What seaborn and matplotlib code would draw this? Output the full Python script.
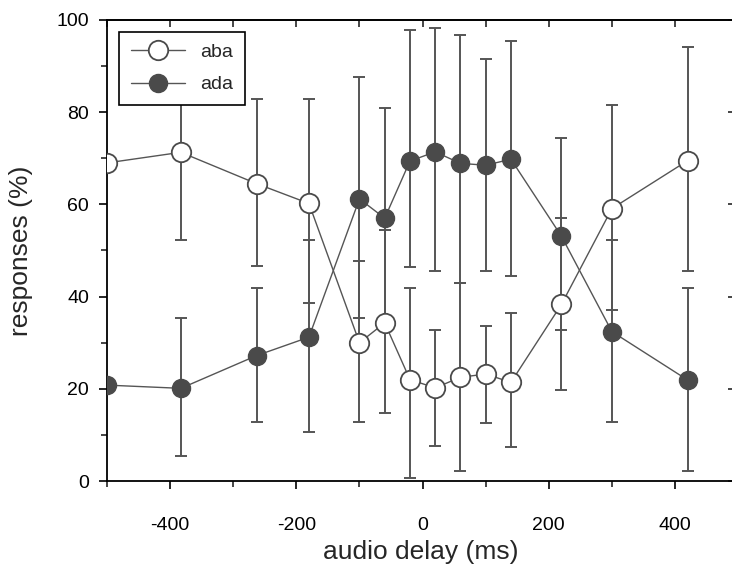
import matplotlib
matplotlib.use("Agg")
import matplotlib.pyplot as plt
import numpy as np
import seaborn as sns
from matplotlib.ticker import MultipleLocator

# audio delay (ms) and mean responses (%)
delay = [-500, -383, -263, -180, -100, -60, -20, 20, 60, 100, 140, 220, 300, 420]
aba = [69.0, 71.3, 64.5, 60.2, 30.0, 34.3, 22.0, 20.2, 22.5, 23.2, 21.4, 38.3, 59.1, 69.5]
ada = [20.8, 20.1, 27.2, 31.2, 61.2, 57.0, 69.4, 71.4, 68.9, 68.5, 69.8, 53.1, 32.4, 21.9]

# error bars (lower, upper)
aba_lo = [0, 19.0, 17.9, 21.6, 17.2, 19.6, 21.4, 12.6, 20.3, 10.6, 14.0, 18.6, 22.0, 23.9]
aba_hi = [0, 19.0, 18.4, 22.7, 17.7, 20.2, 19.8, 12.5, 20.4, 10.4, 15.0, 18.7, 22.5, 24.6]
ada_lo = [0, 14.7, 14.4, 20.6, 25.8, 24.0, 23.0, 25.8, 26.0, 22.9, 25.3, 20.4, 19.6, 19.7]
ada_hi = [0, 15.3, 14.6, 21.1, 26.4, 23.9, 28.4, 26.8, 27.8, 23.0, 25.6, 21.3, 19.9, 19.9]

sns.set_style("ticks")
plt.rcParams["font.family"] = ["Liberation Sans", "DejaVu Sans"]
plt.rcParams["axes.unicode_minus"] = False

gray = "#555555"
dark = "#4a4a4a"

fig = plt.figure(figsize=(7.32, 5.71), dpi=100)
ax = fig.add_axes([107 / 732, 1 - 481 / 571, 628 / 732, 461 / 571])

ax.errorbar(delay, aba, yerr=[aba_lo, aba_hi], fmt="none", ecolor=gray,
            elinewidth=1.4, capsize=4, capthick=1.4, zorder=2)
ax.errorbar(delay, ada, yerr=[ada_lo, ada_hi], fmt="none", ecolor=gray,
            elinewidth=1.4, capsize=4, capthick=1.4, zorder=2)

sns.lineplot(x=delay, y=aba, ax=ax, color=gray, linewidth=1.0, marker="o",
             markersize=14, markerfacecolor="white", markeredgecolor=dark,
             markeredgewidth=1.3, label="aba", zorder=3)
sns.lineplot(x=delay, y=ada, ax=ax, color=gray, linewidth=1.0, marker="o",
             markersize=13, markerfacecolor=dark, markeredgecolor=dark,
             markeredgewidth=1.0, label="ada", zorder=3)

ax.set_xlim(-500, 495)
ax.set_ylim(0, 100)
ax.xaxis.set_major_locator(MultipleLocator(200))
ax.xaxis.set_minor_locator(MultipleLocator(100))
ax.yaxis.set_major_locator(MultipleLocator(20))
ax.yaxis.set_minor_locator(MultipleLocator(10))
ax.tick_params(axis="both", which="major", direction="out", length=6, width=1.2,
               labelsize=14, colors="black")
ax.tick_params(axis="x", which="major", pad=20)
ax.tick_params(axis="y", which="major", pad=7)
ax.tick_params(axis="both", which="minor", direction="out", length=4, width=1.2)

# inward ticks on the top and right edges
top = ax.secondary_xaxis("top")
top.xaxis.set_major_locator(MultipleLocator(100))
top.tick_params(direction="in", length=5, width=1.2, labeltop=False)
right = ax.secondary_yaxis("right")
right.yaxis.set_major_locator(MultipleLocator(20))
right.tick_params(direction="in", length=5, width=1.2, labelright=False)

for s in ax.spines.values():
    s.set_linewidth(1.3)
    s.set_color("black")
top.spines["top"].set_linewidth(1.3)

ax.set_xlabel("audio delay (ms)", fontsize=19, labelpad=4)
ax.set_ylabel("responses (%)", fontsize=19, labelpad=17)

leg = ax.legend(loc="upper left", bbox_to_anchor=(0.019, 0.974), borderaxespad=0,
                fontsize=14, frameon=True, fancybox=False, framealpha=1,
                edgecolor="black", handlelength=2.8, borderpad=0.6,
                labelspacing=0.75)
leg.get_frame().set_linewidth(1.2)

fig.savefig("out.png", dpi=100)
